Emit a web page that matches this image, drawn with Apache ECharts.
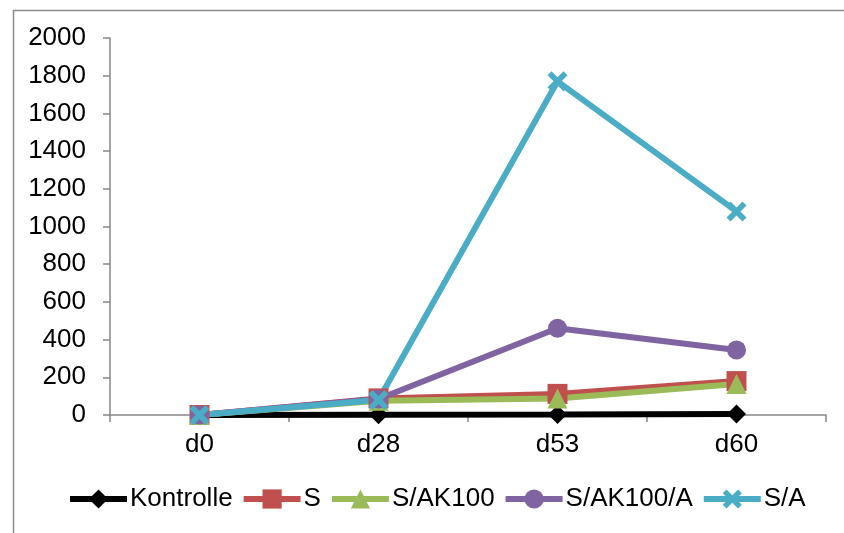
<!DOCTYPE html>
<html>
<head>
<meta charset="utf-8">
<script src="https://cdn.jsdelivr.net/npm/echarts@6/dist/echarts.min.js"></script>
<style>
  html, body { margin: 0; padding: 0; background: #fff; }
  #chart { width: 844px; height: 533px; }
</style>
</head>
<body>
<div id="chart"></div>
<script>
// Measurement days
const days = ['d0', 'd28', 'd53', 'd60'];

// Values per group
const kontrolle = [0, 1, 2, 5];
const s = [0, 88, 112, 180];
const sAk100 = [0, 76, 88, 165];
const sAk100A = [0, 85, 460, 345];
const sA = [0, 80, 1770, 1080];

// Y axis range
const yMin = 0;
const yMax = 2000;
const yStep = 200;

const FONT = '"Liberation Sans", Arial, sans-serif';
const crossPath = 'path://M2,0 L5,3 L8,0 L10,2 L7,5 L10,8 L8,10 L5,7 L2,10 L0,8 L3,5 L0,2 Z';

function lineSeries(name, data, color, symbol, size) {
  return {
    name: name,
    type: 'line',
    data: data,
    symbol: symbol,
    symbolSize: size,
    showAllSymbol: true,
    lineStyle: { color: color, width: 6 },
    itemStyle: { color: color, borderWidth: 0 },
    emphasis: { disabled: true }
  };
}

const chart = echarts.init(document.getElementById('chart'), null, { renderer: 'canvas' });
chart.setOption({
  animation: false,
  backgroundColor: '#ffffff',
  textStyle: { fontFamily: FONT },
  graphic: [{
    type: 'rect',
    left: 11, top: 8,
    shape: { width: 900, height: 600 },
    style: { fill: 'none', stroke: '#8a8a8a', lineWidth: 1.5 },
    silent: true
  }],
  grid: { left: 110, right: 18, top: 38, bottom: 118, containLabel: false },
  legend: {
    bottom: 16,
    left: 62,
    itemWidth: 57,
    itemHeight: 24,
    itemGap: 8,
    lineStyle: { width: 6 },
    textStyle: { fontSize: 26, color: '#000', fontFamily: FONT, padding: [0, 0, 0, -2] },
    data: ['Kontrolle', 'S', 'S/AK100', 'S/AK100/A', 'S/A']
  },
  xAxis: {
    type: 'category',
    data: days,
    boundaryGap: true,
    axisLine: { lineStyle: { color: '#868686', width: 1.5 } },
    axisTick: { show: true, length: 7, inside: false, lineStyle: { color: '#868686', width: 1.5 } },
    axisLabel: { fontSize: 26, color: '#000', margin: 17, fontFamily: FONT },
    splitLine: { show: false }
  },
  yAxis: {
    type: 'value',
    min: yMin,
    max: yMax,
    interval: yStep,
    axisLine: { show: true, lineStyle: { color: '#868686', width: 1.5 } },
    axisTick: { show: true, length: 7, inside: false, lineStyle: { color: '#868686', width: 1.5 } },
    axisLabel: { fontSize: 26, color: '#000', margin: 24, fontFamily: FONT, formatter: v => String(v) },
    splitLine: { show: false }
  },
  series: [
    lineSeries('Kontrolle', kontrolle, '#000000', 'diamond', 19),
    lineSeries('S', s, '#C0504D', 'rect', 20),
    lineSeries('S/AK100', sAk100, '#9BBB59', 'triangle', 20),
    lineSeries('S/AK100/A', sAk100A, '#8064A2', 'circle', 19),
    lineSeries('S/A', sA, '#4BACC6', crossPath, 20)
  ]
});
</script>
</body>
</html>
